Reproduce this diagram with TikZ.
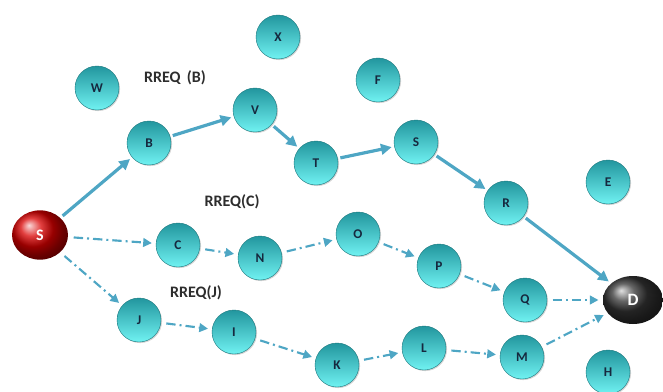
\documentclass[tikz,border=0pt]{standalone}
\usepackage{fontspec}
\setmainfont{Carlito}
\usetikzlibrary{arrows.meta,shadows,shapes.geometric}

\definecolor{linkblue}{RGB}{78,166,196}
\definecolor{nodetop}{RGB}{34,150,158}
\definecolor{nodebot}{RGB}{112,242,242}
\definecolor{letternavy}{RGB}{22,40,62}
\definecolor{reqgray}{RGB}{45,45,45}

\tikzset{every picture/.style={line width=0.75pt}}
\tikzset{
  mobile/.style={circle, minimum size=33pt, inner sep=0pt, top color=nodetop, bottom color=nodebot,
    draw=nodetop!80!black, line width=0.3pt, text=letternavy,
    font=\fontsize{10}{12}\selectfont\bfseries,
    drop shadow={shadow xshift=0.8pt, shadow yshift=-0.8pt, opacity=0.35}},
  source/.style={ellipse, minimum width=42pt, minimum height=37pt, inner sep=0pt, shading=ball, ball color=red!85!black,
    text=white, font=\fontsize{12}{14}\selectfont\bfseries},
  sink/.style={ellipse, minimum width=45pt, minimum height=36pt, inner sep=0pt, shading=ball, ball color=black!80,
    text=white, font=\fontsize{13}{15}\selectfont\bfseries},
  reqlabel/.style={text=reqgray, font=\fontsize{12}{14}\selectfont\bfseries, inner sep=0.75pt},
  route/.style={draw=linkblue, line width=2.4pt, -{Triangle[length=8pt,width=8pt]}, shorten >=2pt, shorten <=2pt},
  probe/.style={draw=linkblue, line width=1.6pt, -{Triangle[length=6.5pt,width=6.5pt]},
    dash pattern={on 7pt off 3pt on 1.5pt off 3pt}, shorten >=3pt, shorten <=4pt},
}

\begin{document}
\begin{tikzpicture}[x=0.75pt,y=0.75pt,yscale=-1,xscale=1]
\useasboundingbox (0,0) rectangle (663,392);

% Source and destination
\node [source] (src) at (40,235) {S};
\node [sink] (dst) at (633,300) {D};

% Nodes on the route of RREQ (B)
\node [mobile] (b) at (149,143) {B};
\node [mobile] (v) at (255,110) {V};
\node [mobile] (t) at (316,163) {T};
\node [mobile] (s) at (416,142) {S};
\node [mobile] (r) at (506,203) {R};

% Nodes on the route of RREQ (C)
\node [mobile] (c) at (178,245) {C};
\node [mobile] (n) at (260,258) {N};
\node [mobile] (o) at (358,234) {O};
\node [mobile] (p) at (439,266) {P};
\node [mobile] (q) at (525,300) {Q};

% Nodes on the route of RREQ (J)
\node [mobile] (j) at (139,320) {J};
\node [mobile] (i) at (234,332) {I};
\node [mobile] (k) at (337,365) {K};
\node [mobile] (l) at (424,348) {L};
\node [mobile] (m) at (522,357) {M};

% Other nodes
\node [mobile] (x) at (278,37) {X};
\node [mobile] (w) at (97,88) {W};
\node [mobile] (f) at (378,80) {F};
\node [mobile] (e) at (608,182) {E};
\node [mobile] (h) at (608,372) {H};

% Text Node
\node [reqlabel] (lblb) at (175,78) {RREQ\, (B)};
\node [reqlabel] (lblc) at (232,202) {RREQ(C)};
\node [reqlabel] (lblj) at (196,293) {RREQ(J)};

% Route arrows
\draw [route] (src) -- (b);
\draw [route] (b) -- (v);
\draw [route] (v) -- (t);
\draw [route] (t) -- (s);
\draw [route] (s) -- (r);
\draw [route] (r) -- (dst);

% Probe arrows
\draw [probe] (src) -- (c);
\draw [probe] (c) -- (n);
\draw [probe] (n) -- (o);
\draw [probe] (o) -- (p);
\draw [probe] (p) -- (q);
\draw [probe] (q) -- (dst);
\draw [probe] (src) -- (j);
\draw [probe] (j) -- (i);
\draw [probe] (i) -- (k);
\draw [probe] (k) -- (l);
\draw [probe] (l) -- (m);
\draw [probe] (m) -- (dst);

\end{tikzpicture}
\end{document}
